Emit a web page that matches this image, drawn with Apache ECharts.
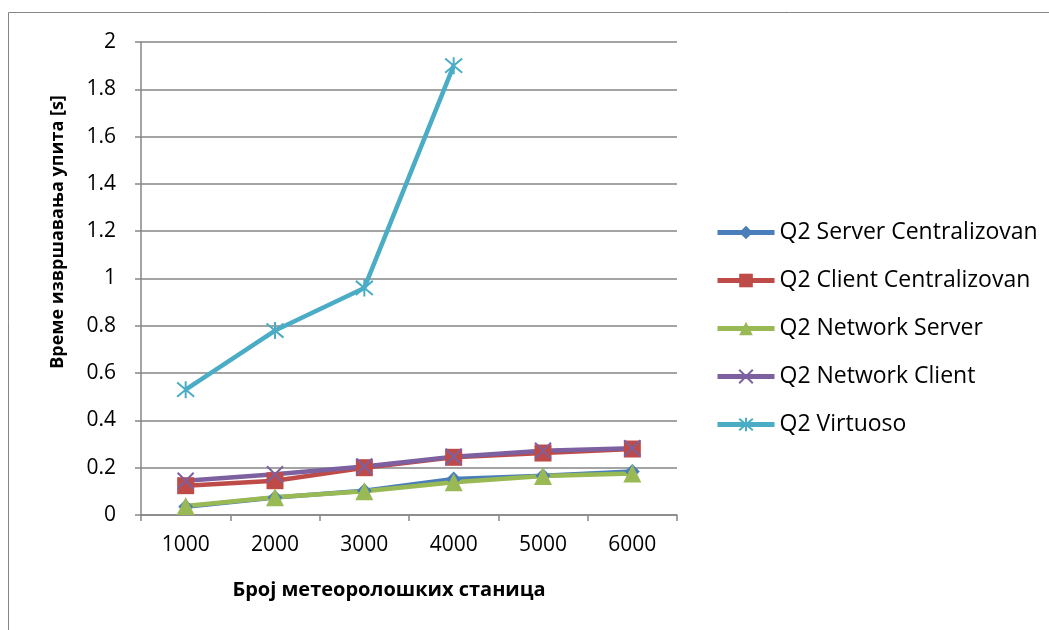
<!DOCTYPE html>
<html>
<head>
<meta charset="utf-8">
<script src="https://cdn.jsdelivr.net/npm/echarts@6/dist/echarts.min.js"></script>
<style>
  html, body { margin: 0; padding: 0; background: #fff; }
  #chart { width: 1049px; height: 630px; }
</style>
</head>
<body>
<div id="chart"></div>
<script>
// Number of weather stations (categories)
const stations = ['1000', '2000', '3000', '4000', '5000', '6000'];

// Query execution times in seconds
const serverCentralizovan = [0.035, 0.074, 0.103, 0.152, 0.166, 0.184];
const clientCentralizovan = [0.124, 0.145, 0.200, 0.244, 0.262, 0.279];
const networkServer = [0.038, 0.075, 0.100, 0.138, 0.165, 0.175];
const networkClient = [0.145, 0.172, 0.205, 0.246, 0.272, 0.282];
const virtuoso = [0.53, 0.78, 0.96, 1.90];

const seriesNames = [
  'Q2 Server Centralizovan',
  'Q2 Client Centralizovan',
  'Q2 Network Server',
  'Q2 Network Client',
  'Q2 Virtuoso'
];

const FONT = '"Open Sans", "Noto Sans", sans-serif';
const X_PATH = 'path://M0,0 L10,10 M10,0 L0,10';
const STAR_PATH = 'path://M0,0 L10,10 M10,0 L0,10 M5,-1 L5,11';

function lineSeries(name, data, color, symbol, size, hollow) {
  return {
    name: name,
    type: 'line',
    data: data,
    symbol: symbol,
    symbolSize: size,
    lineStyle: { color: color, width: 4.5 },
    itemStyle: hollow
      ? { color: 'rgba(0,0,0,0)', borderColor: color, borderWidth: 2 }
      : { color: color, borderWidth: 0 },
    emphasis: { disabled: true },
    animation: false
  };
}

const chart = echarts.init(document.getElementById('chart'));
chart.setOption({
  backgroundColor: '#fff',
  animation: false,
  grid: { left: 141, right: 372, top: 42, bottom: 115 },
  legend: {
    orient: 'vertical',
    left: 710,
    top: 216,
    itemWidth: 57,
    itemHeight: 17,
    itemGap: 25,
    lineStyle: { width: 5 },
    textStyle: { fontFamily: FONT, fontSize: 23, color: '#000' },
    data: seriesNames
  },
  xAxis: {
    type: 'category',
    data: stations,
    boundaryGap: true,
    axisLine: { lineStyle: { color: '#868686', width: 1.5 } },
    axisTick: { show: true, length: 6, lineStyle: { color: '#868686', width: 1.5 } },
    axisLabel: { fontFamily: FONT, fontSize: 21, color: '#000', margin: 20 }
  },
  yAxis: {
    type: 'value',
    min: 0,
    max: 2,
    interval: 0.2,
    axisLine: { show: true, lineStyle: { color: '#868686', width: 1.5 } },
    axisTick: { show: true, length: 6, lineStyle: { color: '#868686', width: 1.5 } },
    splitLine: { lineStyle: { color: '#868686', width: 1.5 } },
    axisLabel: { fontFamily: FONT, fontSize: 21, color: '#000', margin: 25 }
  },
  graphic: [
    {
      type: 'rect',
      shape: { x: 8.5, y: 12.5, width: 1200, height: 800 },
      style: { fill: 'none', stroke: '#868686', lineWidth: 1 },
      silent: true
    },
    {
      type: 'text',
      x: 58,
      y: 232,
      rotation: Math.PI / 2,
      style: {
        text: 'Време извршавања упита [s]',
        font: 'bold 18px ' + FONT,
        fill: '#000',
        align: 'center',
        verticalAlign: 'middle'
      }
    },
    {
      type: 'text',
      x: 389,
      y: 590,
      style: {
        text: 'Број метеоролошких станица',
        font: 'bold 20px ' + FONT,
        fill: '#000',
        align: 'center',
        verticalAlign: 'middle'
      }
    }
  ],
  series: [
    lineSeries(seriesNames[0], serverCentralizovan, '#4A7EBB', 'diamond', 15, false),
    lineSeries(seriesNames[1], clientCentralizovan, '#BE4B48', 'rect', 17, false),
    lineSeries(seriesNames[2], networkServer, '#98B954', 'triangle', 18, false),
    lineSeries(seriesNames[3], networkClient, '#7D60A0', X_PATH, 16, true),
    lineSeries(seriesNames[4], virtuoso, '#4BACC6', STAR_PATH, 17, true)
  ]
});
</script>
</body>
</html>
